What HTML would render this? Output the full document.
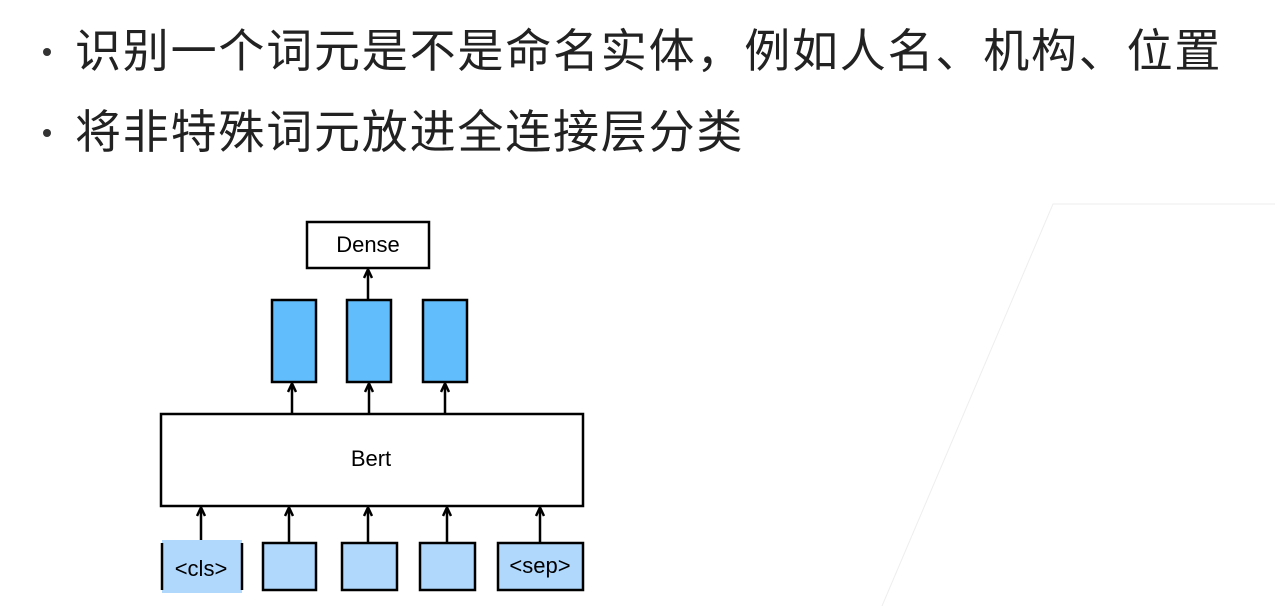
<!DOCTYPE html>
<html><head><meta charset="utf-8"><style>
body{margin:0;width:1275px;height:606px;background:#fff;overflow:hidden;position:relative;font-family:"Liberation Sans","Noto Sans CJK SC",sans-serif;}
.t{position:absolute;left:75px;font-size:46px;letter-spacing:1.8px;color:#222;white-space:nowrap;line-height:1;}
.d{position:absolute;left:43px;width:8px;height:8px;border-radius:50%;background:#333;}
</style></head><body>
<div class="d" style="top:48px"></div>
<div class="t" style="top:28px">识别一个词元是不是命名实体，例如人名、机构、位置</div>
<div class="d" style="top:129px"></div>
<div class="t" style="top:109px">将非特殊词元放进全连接层分类</div>
<svg width="1275" height="606" style="position:absolute;left:0;top:0" font-family="Liberation Sans, sans-serif">
<defs><marker id="a" markerWidth="10" markerHeight="10" refX="5" refY="1" orient="0" markerUnits="userSpaceOnUse"><path d="M1,9 L5,0.5 L9,9" fill="none" stroke="#000" stroke-width="2.5"/></marker></defs>
<path d="M1275,204 H1053 L882,606" fill="none" stroke="#eee" stroke-width="1"/>
<rect x="307" y="222" width="122" height="46" fill="#fff" stroke="#000" stroke-width="2.5"/>
<text x="368" y="252" font-size="22" text-anchor="middle">Dense</text>
<g fill="#62bdfd" stroke="#000" stroke-width="2.5">
<rect x="272" y="300" width="44" height="82"/><rect x="347" y="300" width="44" height="82"/><rect x="423" y="300" width="44" height="82"/></g>
<rect x="161" y="414" width="422" height="92" fill="#fff" stroke="#000" stroke-width="2.5"/>
<text x="371" y="466" font-size="22" text-anchor="middle">Bert</text>
<rect x="162" y="540" width="80" height="53" fill="#b0d8fd"/>
<line x1="162" y1="543" x2="162" y2="590" stroke="#000" stroke-width="2.5"/><line x1="242" y1="543" x2="242" y2="590" stroke="#000" stroke-width="2.5"/>
<g fill="#b0d8fd" stroke="#000" stroke-width="2.5">
<rect x="263" y="543" width="53" height="47"/><rect x="342" y="543" width="55" height="47"/><rect x="420" y="543" width="55" height="47"/><rect x="498" y="543" width="85" height="47"/></g>
<text x="201" y="576" font-size="22" text-anchor="middle">&lt;cls&gt;</text>
<text x="540" y="573" font-size="22" text-anchor="middle">&lt;sep&gt;</text>
<g stroke="#000" stroke-width="2.5" marker-end="url(#a)">
<line x1="368" y1="300" x2="368" y2="270"/>
<line x1="292" y1="414" x2="292" y2="384"/><line x1="369" y1="414" x2="369" y2="384"/><line x1="445" y1="414" x2="445" y2="384"/>
<line x1="201" y1="540" x2="201" y2="508"/><line x1="289" y1="543" x2="289" y2="508"/><line x1="368" y1="543" x2="368" y2="508"/><line x1="447" y1="543" x2="447" y2="508"/><line x1="540" y1="543" x2="540" y2="508"/>
</g>
</svg>
</body></html>
